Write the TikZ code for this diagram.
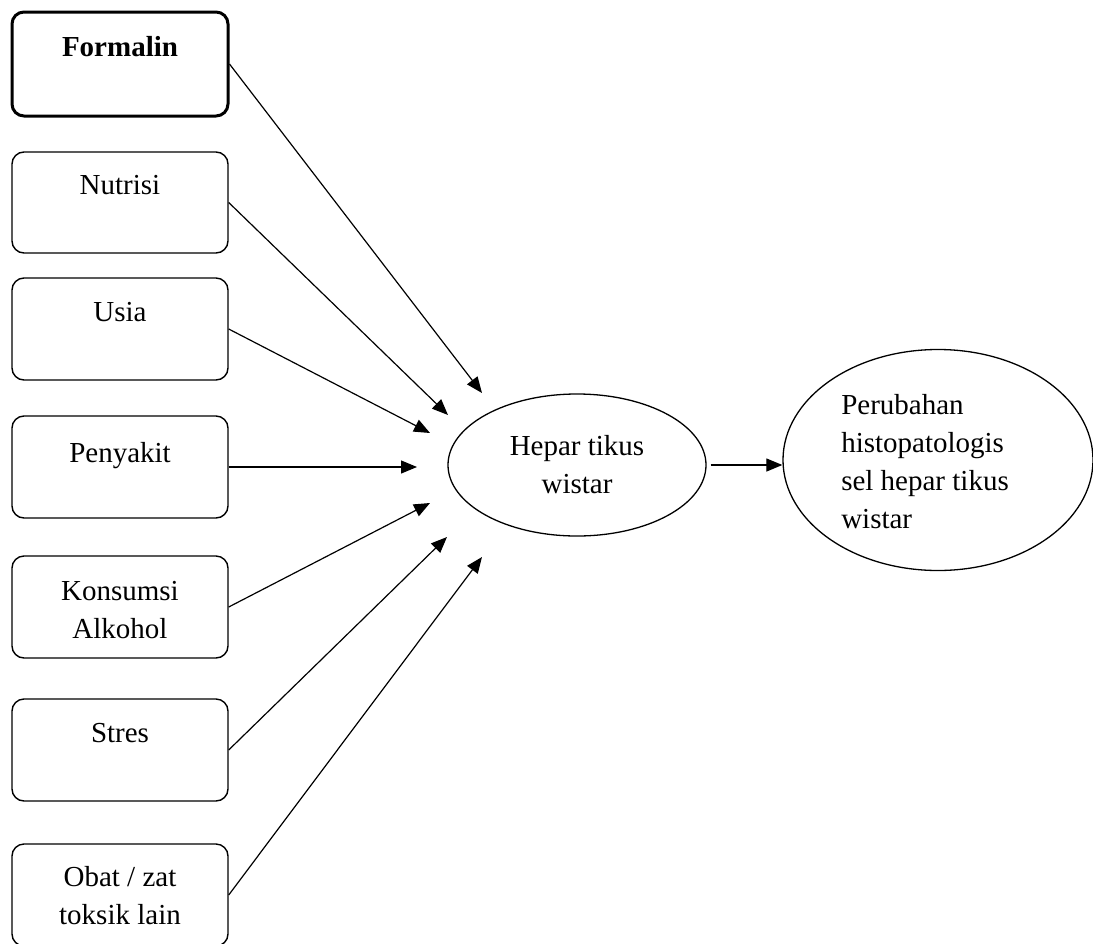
\documentclass[tikz,border=0pt]{standalone}
\usepackage{fontspec}
\setmainfont{Liberation Serif}
\usetikzlibrary{arrows.meta,shapes.geometric}
\begin{document}
\begin{tikzpicture}[x=1pt,y=-1pt,
  box/.style={draw, rounded corners=12pt, line width=1.4pt, minimum width=216pt, inner sep=0pt},
  lbl/.style={font=\fontsize{29}{38}\selectfont, align=center, anchor=north, inner sep=0pt},
  oval/.style={draw, ellipse, line width=1.3pt, inner sep=0pt},
  arr/.style={line width=1.2pt, -{Triangle[length=16pt,width=13pt]}}
]
\useasboundingbox (0,0) rectangle (1093,943);

% boxes
\node[box, line width=3pt, minimum height=104pt] (formalin) at (120,64) {};
\node[box, minimum height=101pt] (nutrisi) at (120,202.5) {};
\node[box, minimum height=102pt] (usia) at (120,329) {};
\node[box, minimum height=102pt] (penyakit) at (120,467) {};
\node[box, minimum height=102pt] (konsumsi) at (120,607) {};
\node[box, minimum height=102pt] (stres) at (120,750) {};
\node[box, minimum height=102pt] (obat) at (120,895) {};

% box texts
\node[lbl, font=\fontsize{29}{38}\selectfont\bfseries] (tformalin) at (120,36) {Formalin};
\node[lbl] (tnutrisi) at (120,175) {Nutrisi};
\node[lbl] (tusia) at (120,302) {Usia};
\node[lbl] (tpenyakit) at (120,442) {Penyakit};
\node[lbl] (tkonsumsi) at (120,581) {Konsumsi\\Alkohol};
\node[lbl] (tstres) at (120,723) {Stres};
\node[lbl] (tobat) at (120,866) {Obat / zat\\toksik lain};

% ellipses
\node[oval, minimum width=258pt, minimum height=142pt,
      font=\fontsize{29}{38}\selectfont, align=center] (hepar) at (577,465) {Hepar tikus\\wistar};
\node[oval, minimum width=310pt, minimum height=221pt] (peru) at (938,460) {};
\node[font=\fontsize{29}{38}\selectfont, align=left, inner sep=0pt] (tperu) at (925,462)
  {Perubahan\\histopatologis\\sel hepar tikus\\wistar};

% arrow tips
\coordinate (c1) at (482,393);
\coordinate (c2) at (448,415);
\coordinate (c3) at (430,433);
\coordinate (c4) at (417,467);
\coordinate (c5) at (430,503);
\coordinate (c6) at (447,537);
\coordinate (c7) at (482,557);

\draw[arr] (formalin.east) -- (c1);
\draw[arr] (nutrisi.east) -- (c2);
\draw[arr] (usia.east) -- (c3);
\draw[arr] (penyakit.east) -- (c4);
\draw[arr] (konsumsi.east) -- (c5);
\draw[arr] (stres.east) -- (c6);
\draw[arr] (obat.east) -- (c7);

\draw[arr, shorten <=4pt] (hepar.east) -- (hepar.east -| peru.west);
\end{tikzpicture}
\end{document}
